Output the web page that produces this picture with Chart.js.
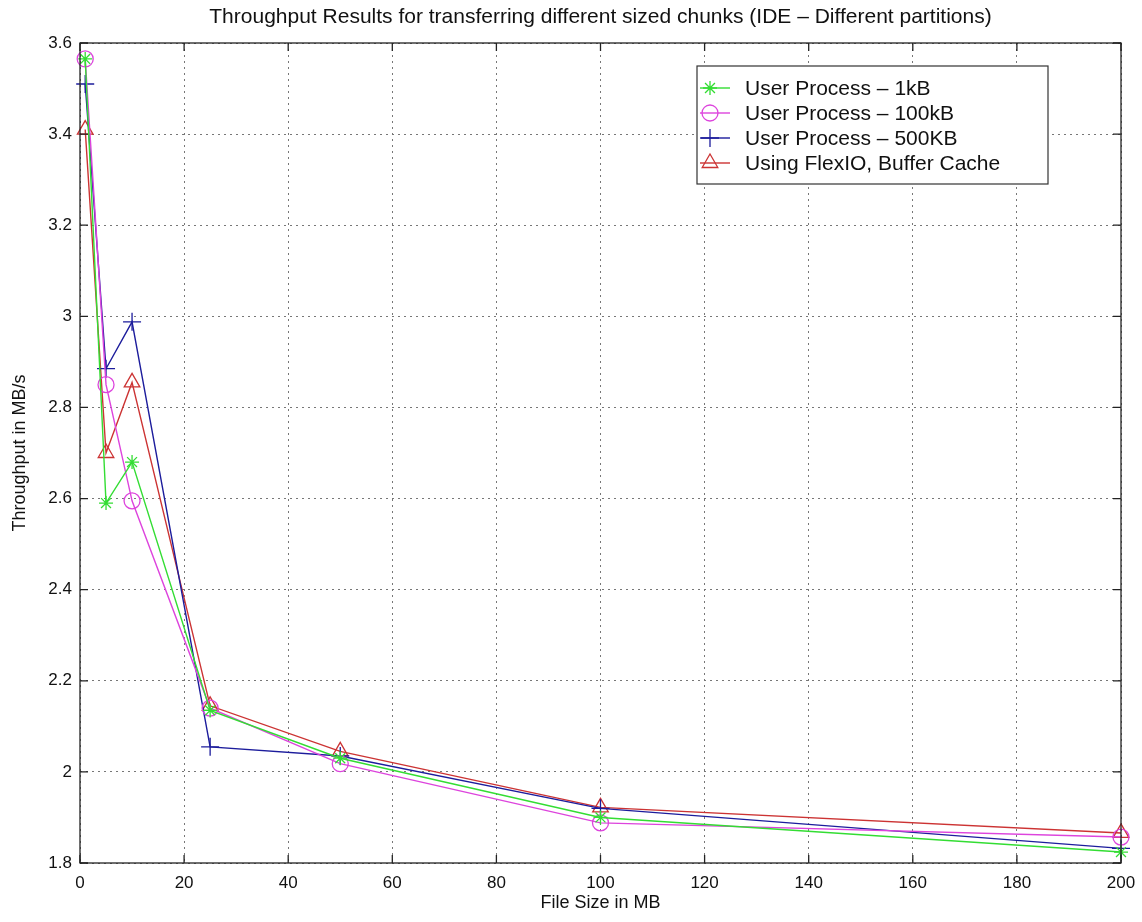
<!DOCTYPE html>
<html>
<head>
<meta charset="utf-8">
<script src="https://cdn.jsdelivr.net/npm/chart.js@4/dist/chart.umd.min.js"></script>
<style>
  html, body { margin: 0; background: #fff; }
  #wrap { width: 1142px; height: 922px; }
</style>
</head>
<body>
<div id="wrap"><canvas id="chart"></canvas></div>
<script>
// file sizes in MB
const fileSizes = [1, 5, 10, 25, 50, 100, 200];

// throughput in MB/s
const user1kB   = [3.565, 2.59, 2.68, 2.135, 2.03, 1.90, 1.824];
const user100kB = [3.565, 2.85, 2.595, 2.14, 2.018, 1.888, 1.857];
const user500KB = [3.51, 2.885, 2.988, 2.055, 2.035, 1.92, 1.832];
const flexIO    = [3.41, 2.70, 2.855, 2.145, 2.045, 1.922, 1.866];

const seriesNames = [
  'User Process \u2013 1kB',
  'User Process \u2013 100kB',
  'User Process \u2013 500KB',
  'Using FlexIO, Buffer Cache'
];

const chartTitle = 'Throughput Results for transferring different sized chunks (IDE \u2013 Different partitions)';

const xTicks = [0, 20, 40, 60, 80, 100, 120, 140, 160, 180, 200];
const yTicks = [1.8, 2, 2.2, 2.4, 2.6, 2.8, 3, 3.2, 3.4, 3.6];

const FONT = "'Liberation Sans', Arial, sans-serif";

function points(vals) {
  return fileSizes.map((x, i) => ({ x: x, y: vals[i] }));
}

function makeSet(label, vals, color, style, radius) {
  return {
    label: label,
    data: points(vals),
    borderColor: color,
    backgroundColor: 'rgba(0,0,0,0)',
    borderWidth: 1.4,
    pointStyle: style,
    pointRadius: radius,
    pointBorderWidth: 1.3,
    pointBorderColor: color,
    pointBackgroundColor: 'rgba(0,0,0,0)',
    tension: 0,
    clip: false
  };
}

// box, inner ticks, title and the legend, matlab style
const framePlugin = {
  id: 'frame',
  afterDatasetsDraw(chart) {
    const ctx = chart.ctx;
    const a = chart.chartArea;
    const sx = chart.scales.x, sy = chart.scales.y;
    ctx.save();
    ctx.strokeStyle = '#222';
    ctx.lineWidth = 1.3;
    ctx.strokeRect(a.left, a.top, a.right - a.left, a.bottom - a.top);

    ctx.beginPath();
    const tl = 8;
    xTicks.forEach(v => {
      const px = sx.getPixelForValue(v);
      ctx.moveTo(px, a.bottom); ctx.lineTo(px, a.bottom - tl);
      ctx.moveTo(px, a.top); ctx.lineTo(px, a.top + tl);
    });
    yTicks.forEach(v => {
      const py = sy.getPixelForValue(v);
      ctx.moveTo(a.left, py); ctx.lineTo(a.left + tl, py);
      ctx.moveTo(a.right, py); ctx.lineTo(a.right - tl, py);
    });
    ctx.stroke();

    // title, centred over the axes
    ctx.fillStyle = '#111';
    ctx.font = '21px ' + FONT;
    ctx.textAlign = 'center';
    ctx.textBaseline = 'middle';
    ctx.fillText(chartTitle, (a.left + a.right) / 2, 17);

    // legend box
    const bx = 697, by = 66, bw = 351, bh = 118;
    ctx.fillStyle = '#fff';
    ctx.fillRect(bx, by, bw, bh);
    ctx.strokeStyle = '#333';
    ctx.lineWidth = 1.2;
    ctx.strokeRect(bx, by, bw, bh);

    ctx.font = '21px ' + FONT;
    ctx.textAlign = 'left';
    chart.data.datasets.forEach((ds, i) => {
      const ly = by + 22 + i * 25;
      ctx.strokeStyle = ds.borderColor;
      ctx.lineWidth = ds.borderWidth;
      ctx.beginPath();
      ctx.moveTo(bx + 3, ly);
      ctx.lineTo(bx + 33, ly);
      ctx.stroke();
      ctx.lineWidth = ds.pointBorderWidth;
      ctx.fillStyle = 'rgba(0,0,0,0)';
      Chart.helpers.drawPoint(ctx, {
        pointStyle: ds.pointStyle,
        radius: ds.pointRadius,
        rotation: 0,
        borderWidth: ds.pointBorderWidth
      }, bx + 13, ly);
      ctx.fillStyle = '#111';
      ctx.fillText(ds.label, bx + 48, ly + 1);
    });
    ctx.restore();
  }
};

new Chart(document.getElementById('chart'), {
  type: 'line',
  data: {
    datasets: [
      makeSet(seriesNames[0], user1kB, '#33dd33', 'star', 7),
      makeSet(seriesNames[1], user100kB, '#dd44dd', 'circle', 8),
      makeSet(seriesNames[2], user500KB, '#1c1c9c', 'cross', 9),
      makeSet(seriesNames[3], flexIO, '#cc3333', 'triangle', 9)
    ]
  },
  options: {
    responsive: true,
    maintainAspectRatio: false,
    animation: false,
    layout: { padding: { left: 0, right: 21, top: 43, bottom: 0 } },
    plugins: {
      legend: { display: false },
      tooltip: { enabled: false },
      title: { display: false }
    },
    scales: {
      x: {
        type: 'linear',
        min: 0,
        max: 200,
        afterBuildTicks: s => { s.ticks = xTicks.map(v => ({ value: v })); },
        afterFit: s => { s.height = 59; s.paddingLeft = 0; s.paddingRight = 0; },
        grid: { color: '#777', lineWidth: 1, drawTicks: false },
        border: { display: false, dash: [2, 4] },
        ticks: { color: '#111', font: { family: FONT, size: 17 }, padding: 10, maxRotation: 0 },
        title: {
          display: true,
          text: 'File Size in MB',
          color: '#111',
          font: { family: FONT, size: 18 },
          padding: { top: 0, bottom: 8 }
        }
      },
      y: {
        type: 'linear',
        min: 1.8,
        max: 3.6,
        afterBuildTicks: s => { s.ticks = yTicks.map(v => ({ value: v })); },
        afterFit: s => { s.width = 80; s.paddingTop = 0; s.paddingBottom = 0; },
        grid: { color: '#777', lineWidth: 1, drawTicks: false },
        border: { display: false, dash: [2, 4] },
        ticks: {
          color: '#111',
          font: { family: FONT, size: 17 },
          padding: 8,
          callback: v => String(+Number(v).toFixed(1))
        },
        title: {
          display: true,
          text: 'Throughput in MB/s',
          color: '#111',
          font: { family: FONT, size: 18 },
          padding: { top: 9, bottom: 0 }
        }
      }
    }
  },
  plugins: [framePlugin]
});
</script>
</body>
</html>
